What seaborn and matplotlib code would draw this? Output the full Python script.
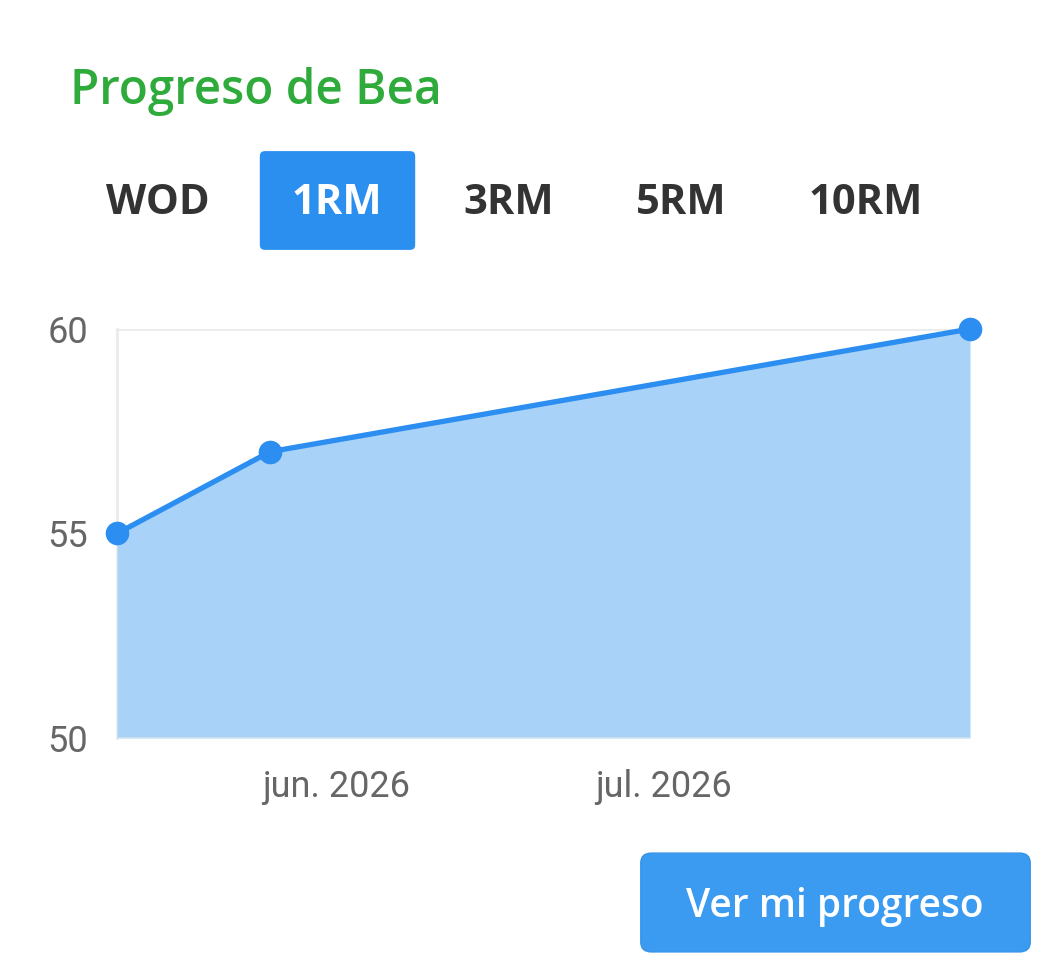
import matplotlib
matplotlib.use("Agg")
import matplotlib.pyplot as plt
from matplotlib.patches import FancyBboxPatch
import seaborn as sns
import pandas as pd

# ---- data ----
dates = ["2026-05-12", "2026-05-26", "2026-07-29"]
values = [55, 57, 60]
y_ticks = [50, 55, 60]
x_tick_dates = ["2026-06-01", "2026-07-01"]
x_tick_labels = ["jun. 2026", "jul. 2026"]
tabs = ["WOD", "1RM", "3RM", "5RM", "10RM"]
active_tab = "1RM"
title = "Progreso de Bea"
button_text = "Ver mi progreso"

df = pd.DataFrame({"fecha": pd.to_datetime(dates), "valor": values})

sns.set_style("white")
plt.rcParams["font.family"] = ["Roboto", "DejaVu Sans"]

W, H = 1049, 973
fig = plt.figure(figsize=(W / 100, H / 100), dpi=100)

LINE = "#2b8ef0"
FILL = "#a8d2f8"
GRID = "#ebebeb"

ax = fig.add_axes([117 / W, 1 - 738 / H, (970 - 117) / W, (738 - 329) / H])
ax.fill_between(df["fecha"], df["valor"], 50, color=FILL, lw=0, zorder=1)
sns.lineplot(data=df, x="fecha", y="valor", ax=ax, color=LINE, lw=3.8,
             marker="o", markersize=17, markeredgewidth=0, zorder=3, clip_on=False)

ax.set_xlim(df["fecha"].min(), df["fecha"].max())
ax.set_ylim(min(y_ticks), max(y_ticks))
ax.set_yticks(y_ticks)
ax.set_yticklabels([str(v) for v in y_ticks])
ax.set_xticks(pd.to_datetime(x_tick_dates))
ax.set_xticklabels(x_tick_labels)
ax.set_xlabel("")
ax.set_ylabel("")

for v in y_ticks:
    ax.axhline(v, color=GRID, lw=2, zorder=0.5)
ax.axhline(50, color="#d3dde9", lw=2, zorder=2)
for s in ["top", "right", "bottom"]:
    ax.spines[s].set_visible(False)
ax.spines["left"].set_color(GRID)
ax.spines["left"].set_linewidth(2)
ax.spines["left"].set_zorder(0.5)

ax.tick_params(axis="y", length=21, width=2, color=GRID, labelsize=26,
               labelcolor="#666666", pad=0)
ax.tick_params(axis="x", length=0, labelsize=26, labelcolor="#666666", pad=22)

# title
fig.text(70 / W, 1 - 92 / H, title, fontsize=34.3, color="#2eab3b",
         family=["Open Sans", "DejaVu Sans"], fontweight="semibold",
         va="center", ha="left")

# tabs
tab_x = [158, 337, 509, 681, 866]
tab_y = 203
for name, tx in zip(tabs, tab_x):
    if name == active_tab:
        box = FancyBboxPatch((264 / W, 1 - 246 / H), (411 - 264) / W, (246 - 155) / H,
                             boxstyle="round,pad=0.004,rounding_size=0.005",
                             transform=fig.transFigure, facecolor="#2b8ff0",
                             edgecolor="none")
        fig.patches.append(box)
        col = "white"
    else:
        col = "#333333"
    fig.text(tx / W, 1 - tab_y / H, name, fontsize=30, fontweight="bold",
             color=col, family=["Open Sans", "DejaVu Sans"], ha="center", va="center")

# button
btn = FancyBboxPatch((645 / W, 1 - 948 / H), (1026 - 645) / W, (948 - 857) / H,
                     boxstyle="round,pad=0.004,rounding_size=0.01",
                     transform=fig.transFigure, facecolor="#3a9bf1",
                     edgecolor="#3593e6", lw=1)
fig.patches.append(btn)
fig.text(835 / W, 1 - 907 / H, button_text, fontsize=28, color="white",
         family=["Open Sans", "DejaVu Sans"], fontweight="semibold",
         ha="center", va="center")

fig.savefig("out.png", dpi=100)
